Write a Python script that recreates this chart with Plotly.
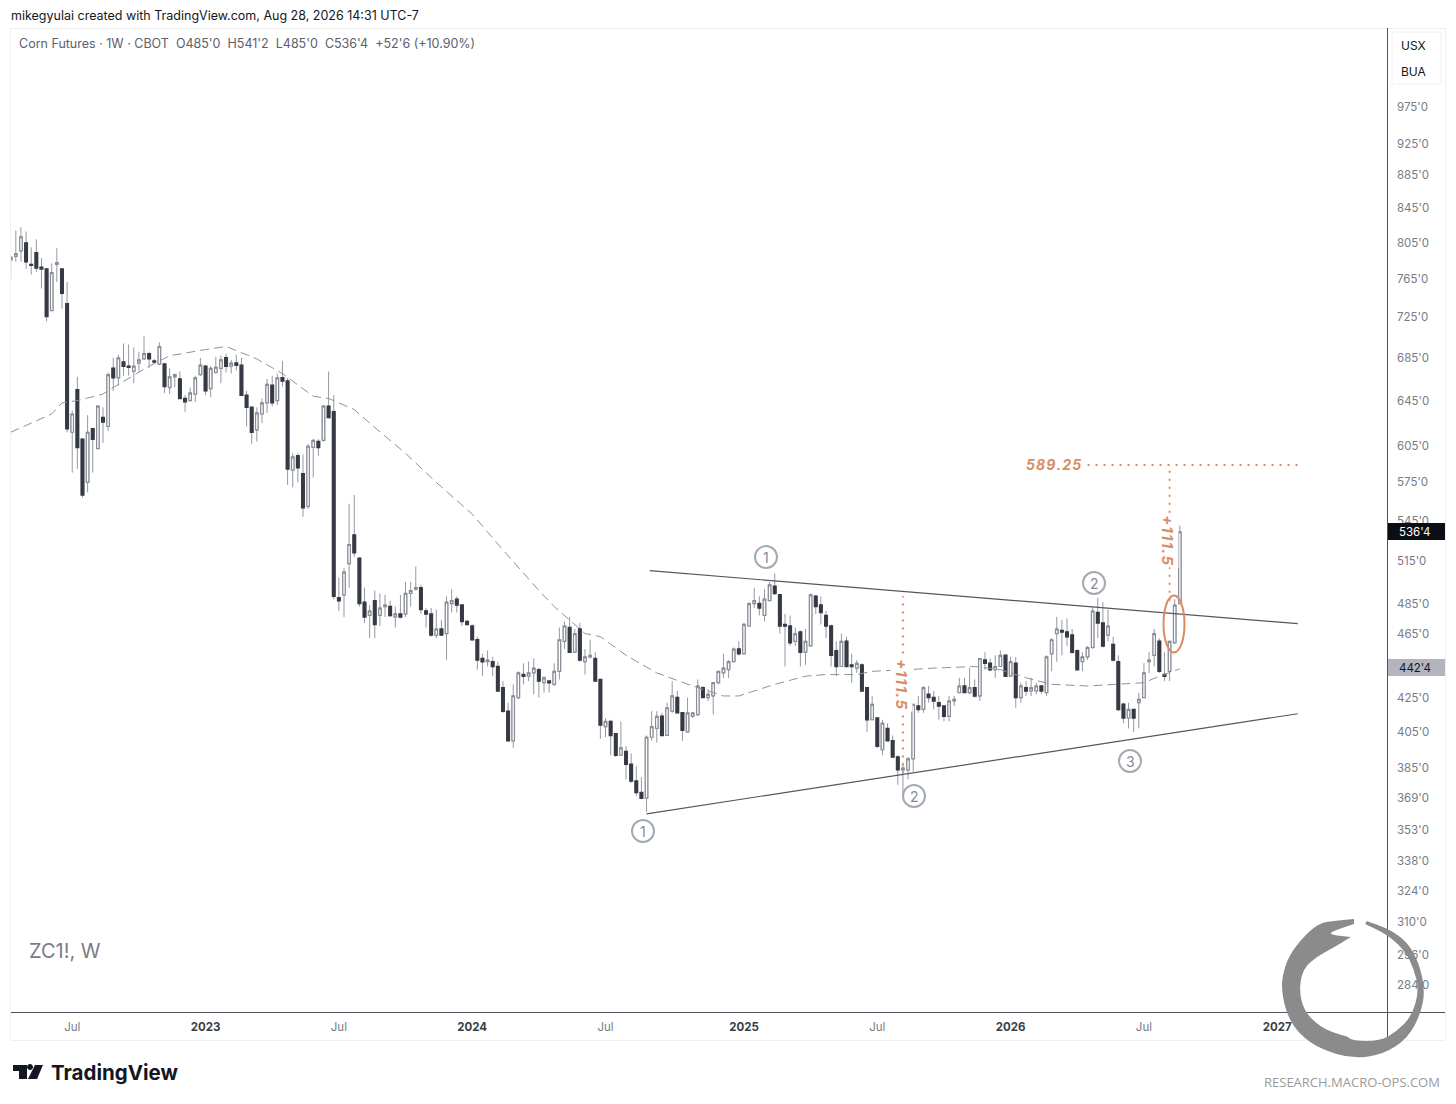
#!/usr/bin/env python3
# coding: utf-8

from datetime import datetime, timedelta

from plotly import graph_objs as go

WIDTH = 1456
HEIGHT = 1104
FONT = 'Inter'
ORANGE = '#d98c63'
CIRCLE_GRAY = '#a5a9b3'
HAIR = '\u200a'

START = datetime(2022, 4, 11)

OPENS = [
    786, 790, 796, 805, 781, 794, 778, 776, 732, 781,
    776, 739, 617, 655, 611, 575, 620, 603, 630, 622,
    675, 666, 681, 677, 672, 680, 684, 689, 682, 679,
    679, 657, 667, 665, 647, 645, 651, 669, 677, 656,
    671, 675, 685, 677, 680, 678, 650, 639, 619, 633,
    643, 659, 645, 666, 663, 585, 597, 582, 556, 604,
    609, 610, 640, 635, 489, 491, 513, 534, 517, 486,
    477, 487, 477, 483, 483, 476, 478, 478, 492, 495,
    496, 480, 478, 464, 468, 465, 485, 488, 484, 473,
    470, 461, 449, 447, 447, 444, 431, 417, 400, 425,
    439, 438, 440, 442, 434, 435, 433, 441, 460, 469,
    453, 468, 447, 450, 449, 436, 408, 411, 404, 392,
    394, 387, 378, 372, 369, 402, 407, 414, 403, 417,
    425, 416, 405, 414, 415, 431, 425, 426, 434, 440,
    442, 447, 455, 452, 470, 485, 485, 477, 487, 497,
    491, 471, 470, 460, 466, 453, 457, 490, 484, 477,
    470, 454, 444, 460, 445, 443, 445, 431, 412, 413,
    395, 407, 400, 391, 384, 384, 390, 420, 418, 427,
    425, 422, 420, 414, 423, 428, 432, 428, 431, 426,
    448, 446, 442, 444, 451, 438, 446, 425, 431, 429,
    429, 432, 428, 452, 465, 467, 466, 464, 454, 447,
    450, 456, 479, 472, 464, 458, 447, 421, 413, 418,
    422, 425, 447, 451, 460, 439, 441, 459, 485,
]
HIGHS = [
    790, 819, 823, 818, 800, 809, 788, 776, 782, 799,
    776, 762, 636, 667, 612, 632, 621, 641, 639, 671,
    685, 688, 699, 698, 695, 691, 706, 691, 684, 700,
    680, 675, 670, 672, 650, 657, 668, 685, 678, 677,
    686, 687, 689, 683, 688, 685, 654, 639, 639, 647,
    665, 668, 670, 682, 666, 599, 599, 598, 607, 611,
    611, 641, 672, 650, 503, 510, 558, 565, 517, 496,
    484, 494, 492, 491, 487, 483, 491, 500, 500, 511,
    498, 482, 482, 481, 474, 490, 495, 490, 484, 474,
    471, 463, 452, 454, 450, 447, 435, 422, 433, 441,
    446, 447, 449, 443, 438, 435, 446, 469, 473, 476,
    468, 472, 455, 461, 453, 436, 413, 412, 404, 411,
    397, 393, 386, 380, 403, 417, 417, 416, 422, 435,
    429, 416, 425, 416, 436, 432, 430, 434, 441, 452,
    448, 456, 460, 472, 486, 496, 490, 495, 500, 506,
    491, 478, 477, 469, 467, 468, 492, 491, 490, 480,
    471, 460, 465, 463, 452, 448, 446, 431, 426, 413,
    412, 410, 403, 392, 388, 391, 421, 426, 432, 432,
    429, 426, 420, 426, 426, 437, 437, 443, 436, 449,
    453, 449, 451, 454, 451, 450, 450, 434, 435, 437,
    434, 432, 451, 462, 476, 474, 475, 468, 455, 453,
    457, 483, 489, 486, 481, 463, 451, 422, 422, 418,
    428, 446, 453, 468, 462, 453, 460, 488, 541.25,
]
LOWS = [
    765, 784, 784, 776, 770, 773, 755, 721, 732, 762,
    734, 617, 583, 586, 563, 567, 583, 603, 608, 618,
    654, 659, 668, 668, 661, 672, 683, 675, 679, 678,
    652, 651, 657, 647, 635, 645, 644, 668, 650, 648,
    670, 661, 671, 670, 673, 650, 622, 607, 609, 625,
    634, 640, 641, 658, 573, 571, 575, 548, 554, 579,
    597, 609, 629, 488, 480, 476, 496, 518, 483, 472,
    462, 462, 470, 476, 476, 469, 475, 476, 483, 494,
    478, 469, 463, 462, 464, 448, 479, 479, 470, 471,
    461, 442, 438, 444, 438, 429, 416, 400, 396, 424,
    433, 435, 427, 425, 428, 428, 432, 436, 455, 453,
    453, 447, 439, 449, 435, 401, 402, 392, 391, 392,
    379, 377, 370, 369, 362, 400, 399, 403, 403, 416,
    416, 400, 405, 413, 414, 425, 423, 415, 433, 437,
    437, 447, 451, 452, 470, 482, 477, 473, 487, 491,
    465, 444, 457, 457, 444, 445, 457, 478, 471, 462,
    444, 438, 444, 444, 434, 440, 429, 405, 412, 396,
    392, 400, 391, 376, 370, 379, 383, 416, 416, 422,
    418, 412, 411, 411, 420, 428, 428, 427, 425, 423,
    442, 441, 437, 444, 438, 438, 419, 422, 426, 426,
    427, 427, 426, 441, 447, 451, 457, 452, 442, 441,
    448, 455, 462, 456, 460, 447, 417, 410, 407, 405,
    407, 425, 440, 444, 440, 435, 435, 459, 485,
]
CLOSES = [
    789, 793, 812, 784, 780, 777, 776, 726, 772, 783,
    750, 620, 633, 604, 565, 617, 611, 640, 626, 669,
    666, 685, 677, 676, 677, 683, 689, 684, 681, 696,
    658, 667, 669, 647, 644, 652, 666, 678, 654, 675,
    676, 683, 677, 680, 678, 650, 639, 617, 634, 643,
    660, 643, 666, 663, 586, 596, 587, 555, 605, 610,
    604, 640, 630, 490, 487, 507, 527, 521, 485, 476,
    480, 471, 482, 484, 477, 478, 476, 492, 494, 496,
    481, 478, 464, 468, 464, 486, 487, 484, 473, 471,
    461, 448, 447, 448, 444, 429, 417, 400, 426, 440,
    438, 440, 443, 435, 437, 434, 441, 461, 470, 453,
    465, 448, 450, 451, 435, 409, 411, 403, 392, 396,
    387, 378, 372, 369, 402, 408, 414, 403, 419, 426,
    416, 406, 416, 416, 432, 425, 427, 434, 441, 443,
    447, 455, 452, 471, 485, 487, 482, 488, 498, 492,
    470, 470, 459, 465, 453, 460, 491, 483, 479, 470,
    451, 444, 460, 444, 444, 446, 429, 412, 421, 397,
    410, 400, 391, 384, 385, 390, 421, 418, 431, 425,
    423, 420, 414, 423, 424, 432, 428, 431, 426, 449,
    446, 442, 444, 451, 438, 447, 425, 432, 429, 431,
    432, 429, 450, 461, 468, 466, 463, 453, 442, 450,
    456, 480, 472, 457, 470, 448, 418, 413, 418, 413,
    424, 440, 448, 465, 441, 438, 460, 484, 536.5,
]

# moving average, read at a handful of weeks
MA_WEEKS = [0, 8, 10, 13, 18, 20, 27, 31, 38, 42, 48, 53, 59, 62, 64, 67, 70, 77, 83, 90, 96, 103, 106, 112,
            115, 120, 126, 133, 139, 142, 146, 149, 155, 159, 165, 168, 175, 180, 188, 193, 198, 203, 210,
            216, 221, 224, 228]
MA_VALUES = [617, 633, 643, 645, 651, 657, 677, 687, 693, 696, 684, 670, 649, 647, 643, 637, 625, 599, 575, 550,
             523, 494, 483, 465, 463, 451, 440, 432, 426, 426, 430, 433, 438, 439, 439, 441, 442, 443, 444, 442,
             437, 433, 432, 433, 434, 438, 442.5]

UPPER_WEEKS = [124.6, 251]
UPPER_PRICES = [508, 471.5]
LOWER_WEEKS = [124, 251]
LOWER_PRICES = [361, 415.5]

TARGET_WEEKS = [210, 251]
TARGET_PRICES = [589.25, 589.25]
MEASURE_LEFT_WEEKS = [174, 174]
MEASURE_LEFT_PRICES = [382, 490]
MEASURE_RIGHT_WEEKS = [226, 226]
MEASURE_RIGHT_PRICES = [487, 589.25]

PRICE_TICKS = [975, 925, 885, 845, 805, 765, 725, 685, 645, 605, 575, 545, 515, 485, 465, 425, 405, 385, 369,
               353, 338, 324, 310, 296, 284]
DATE_TICKS = ['2022-07-04', '2023-01-02', '2023-07-03', '2024-01-01', '2024-07-01', '2025-01-06', '2025-07-07',
              '2026-01-05', '2026-07-06', '2027-01-04']
DATE_LABELS = ['Jul', '2023', 'Jul', '2024', 'Jul', '2025', 'Jul', '2026', 'Jul', '2027']

# (label, pixel centre) of the circled wave counts
WAVE_LABELS = [('1', 766, 557), ('1', 643, 831), ('2', 914, 796), ('2', 1094, 583), ('3', 1130, 761)]

# outline of the ring logo, in pixels of the page; doubled points keep a sharp corner
RING = [(1354, 919), (1354, 919), (1333, 921), (1320, 923), (1306, 934), (1289, 955), (1282, 977), (1282, 993),
        (1287, 1015), (1299, 1034), (1320, 1049), (1353, 1059), (1384, 1054), (1408, 1038), (1421, 1013),
        (1425, 990), (1419, 963), (1408, 943), (1391, 930), (1367, 921), (1367, 921), (1365, 924), (1365, 924),
        (1388, 935), (1405, 951), (1414, 969), (1419, 990), (1412, 1016), (1396, 1032), (1380, 1041),
        (1353, 1041), (1347, 1036), (1340, 1035), (1320, 1027), (1304, 1011), (1299, 990), (1303, 969),
        (1316, 957), (1333, 948), (1351, 937), (1351, 937), (1332, 935), (1330, 932), (1354, 924), (1354, 924)]
LOGO_BAR = [(13, 1065), (27, 1065), (27, 1079), (19, 1079), (19, 1071), (13, 1071)]
LOGO_SLASH = [(35, 1065), (43, 1065), (37, 1079), (28, 1079)]


def week_date(week):
    return START + timedelta(weeks=week)


def dates(weeks):
    return [week_date(w) for w in weeks]


def px(x, y):
    return x / WIDTH, 1 - y / HEIGHT


def path_from(points):
    coords = [px(x, y) for x, y in points]
    return 'M' + ' L'.join(f'{x:.5f} {y:.5f}' for x, y in coords) + ' Z'


def smooth_path_from(points):
    coords = [px(x, y) for x, y in points]
    count = len(coords)
    mids = [((coords[i][0] + coords[(i + 1) % count][0]) / 2, (coords[i][1] + coords[(i + 1) % count][1]) / 2)
            for i in range(count)]
    path = f'M{mids[-1][0]:.5f} {mids[-1][1]:.5f}'
    for (cx, cy), (mx, my) in zip(coords, mids):
        path += f' Q{cx:.5f} {cy:.5f} {mx:.5f} {my:.5f}'
    return path + ' Z'


def page_rect(x0, y0, x1, y1, **kwargs):
    left, bottom = px(x0, y1)
    right, top = px(x1, y0)
    return dict(type='rect', xref='paper', yref='paper', x0=left, x1=right, y0=bottom, y1=top, **kwargs)


def page_line(x0, y0, x1, y1, color, width=1):
    ax, ay = px(x0, y0)
    bx, by = px(x1, y1)
    return dict(type='line', xref='paper', yref='paper', x0=ax, y0=ay, x1=bx, y1=by,
                line=dict(color=color, width=width))


def page_ellipse(cx, cy, rx, ry, color, width):
    left, bottom = px(cx - rx, cy + ry)
    right, top = px(cx + rx, cy - ry)
    return dict(type='circle', xref='paper', yref='paper', x0=left, x1=right, y0=bottom, y1=top,
                line=dict(color=color, width=width))


def page_text(text, x, y, size, color, xanchor='left', **kwargs):
    ax, ay = px(x, y)
    return dict(text=text, xref='paper', yref='paper', x=ax, y=ay, xanchor=xanchor, yanchor='middle',
                showarrow=False, font=dict(family=kwargs.pop('family', FONT), size=size, color=color), **kwargs)


def spaced(text):
    return HAIR.join(text)


def get_shapes():
    shapes = [
        page_rect(10.5, 28.5, 1445.5, 1040.5, line=dict(color='#f0f0f0', width=1)),
        page_rect(1392, 32, 1441, 84, line=dict(color='#f0f0f0', width=1), fillcolor='white'),
        page_line(11, 1012.5, 1445, 1012.5, '#50535e'),
        page_line(1387.5, 28, 1387.5, 1040, '#50535e'),
        page_rect(1388, 523, 1445, 540, fillcolor='#0c0e15', line=dict(width=0)),
        page_rect(1388, 659, 1445, 676, fillcolor='#b2b5be', line=dict(width=0)),
        page_ellipse(1174, 624, 10.5, 28.5, ORANGE, 2),
    ]
    for _, x, y in WAVE_LABELS:
        shapes.append(page_ellipse(x, y, 11, 11, CIRCLE_GRAY, 2))
    shapes.append(dict(type='path', xref='paper', yref='paper', path=smooth_path_from(RING),
                       fillcolor='#8b8b8b', line=dict(width=0)))
    for outline in (LOGO_BAR, LOGO_SLASH):
        shapes.append(dict(type='path', xref='paper', yref='paper', path=path_from(outline),
                           fillcolor='#131722', line=dict(width=0)))
    shapes.append(page_ellipse(30, 1067, 2.5, 2.5, '#131722', 1))
    shapes[-1]['fillcolor'] = '#131722'
    return shapes


def get_annotations():
    annotations = [
        page_text('mikegyulai created with TradingView.com, Aug 28, 2026 14:31 UTC-7', 9, 16, 12.5, '#131722'),
        page_text("Corn Futures · 1W · CBOT  O485'0  H541'2  L485'0  C536'4  +52'6 (+10.90%)",
                  17, 44, 12.5, '#5d606b'),
        page_text('USX', 1413, 45, 12, '#131722', xanchor='center'),
        page_text('BUA', 1413, 71, 12, '#131722', xanchor='center'),
        page_text("536'4", 1397, 532, 11.5, 'white'),
        page_text("442'4", 1397, 668, 11.5, '#131722'),
        page_text('ZC1!, W', 27, 951, 20, '#787b86'),
        page_text(f'<b><i>{spaced("589.25")}</i></b>', 1053, 464, 14, ORANGE, xanchor='center'),
        page_text(f'<b><i>{spaced("+111.5")}</i></b>', 902, 684, 15, ORANGE, xanchor='center', textangle=90,
                  bgcolor='white'),
        page_text(f'<b><i>{spaced("+111.5")}</i></b>', 1168, 540, 15, ORANGE, xanchor='center', textangle=90,
                  bgcolor='white'),
        page_text('<b>TradingView</b>', 49, 1072, 20.5, '#131722'),
        page_text('RESEARCH.MACRO-OPS.COM', 1442, 1082, 13, '#9a9a9a', xanchor='right', family='Open Sans'),
    ]
    for label, x, y in WAVE_LABELS:
        annotations.append(page_text(label, x, y, 14, '#868a95', xanchor='center'))
    return annotations


def get_figure():
    fig = go.Figure()
    weeks = dates(range(len(OPENS)))

    fig.add_trace(go.Scatter(x=dates(MA_WEEKS), y=MA_VALUES, mode='lines',
                             line=dict(color='#8f929b', width=1, dash='9px,5px')))

    # wicks are gray for every candle, the bodies go on top without them
    fig.add_trace(go.Candlestick(
        x=weeks, open=OPENS, high=HIGHS, low=LOWS, close=CLOSES,
        increasing=dict(line=dict(color='#9598a1', width=1), fillcolor='white'),
        decreasing=dict(line=dict(color='#9598a1', width=1), fillcolor='#363a45'),
        whiskerwidth=0,
    ))
    fig.add_trace(go.Candlestick(
        x=weeks, open=OPENS, close=CLOSES,
        high=[max(o, c) for o, c in zip(OPENS, CLOSES)],
        low=[min(o, c) for o, c in zip(OPENS, CLOSES)],
        increasing=dict(line=dict(color='#8a8d97', width=1.2), fillcolor='white'),
        decreasing=dict(line=dict(color='#363a45', width=1.5), fillcolor='#363a45'),
        whiskerwidth=0,
    ))

    for line_weeks, prices in ((UPPER_WEEKS, UPPER_PRICES), (LOWER_WEEKS, LOWER_PRICES)):
        fig.add_trace(go.Scatter(x=dates(line_weeks), y=prices, mode='lines',
                                 line=dict(color='#53565f', width=1.2)))

    for line_weeks, prices in ((TARGET_WEEKS, TARGET_PRICES), (MEASURE_LEFT_WEEKS, MEASURE_LEFT_PRICES),
                               (MEASURE_RIGHT_WEEKS, MEASURE_RIGHT_PRICES)):
        fig.add_trace(go.Scatter(x=dates(line_weeks), y=prices, mode='lines',
                                 line=dict(color=ORANGE, width=2, dash='2px,6px')))

    date_text = [label if label == 'Jul' else f'<span style="color:#3b3e48"><b>{label}</b></span>'
                 for label in DATE_LABELS]

    fig.update_layout(
        width=WIDTH,
        height=HEIGHT,
        margin=dict(l=0, r=0, t=0, b=0),
        autosize=False,
        paper_bgcolor='white',
        plot_bgcolor='white',
        showlegend=False,
        hovermode=False,
        font=dict(family=FONT, size=11.5, color='#787b86'),
        xaxis=dict(
            type='date',
            domain=[11 / WIDTH, 1387 / WIDTH],
            range=[week_date(0.06), week_date(268.4)],
            rangeslider=dict(visible=False),
            tickmode='array',
            tickvals=DATE_TICKS,
            ticktext=date_text,
            showgrid=False,
            zeroline=False,
            showline=False,
            ticks='',
            ticklabelstandoff=6,
        ),
        yaxis=dict(
            type='log',
            side='right',
            domain=[(HEIGHT - 1012) / HEIGHT, (HEIGHT - 28) / HEIGHT],
            range=[2.4366, 3.0369],
            tickmode='array',
            tickvals=PRICE_TICKS,
            ticktext=[f"{v}'0" for v in PRICE_TICKS],
            showgrid=False,
            zeroline=False,
            showline=False,
            ticks='',
            ticklabelstandoff=9,
        ),
        shapes=get_shapes(),
        annotations=get_annotations(),
    )

    return fig


def main():
    fig = get_figure()
    fig.write_html('out.html', config=dict(displayModeBar=False),
                   post_script="document.body.style.margin = '0';")


if __name__ == "__main__":
    main()
